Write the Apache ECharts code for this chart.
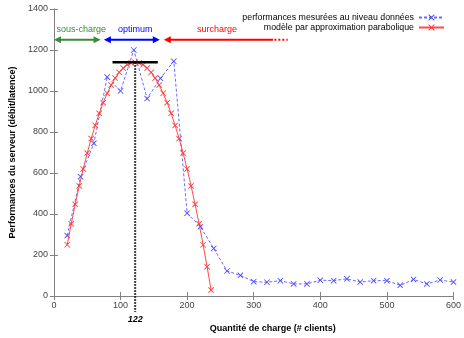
<!DOCTYPE html>
<html><head><meta charset="utf-8">
<script src="https://cdn.jsdelivr.net/npm/echarts@6/dist/echarts.min.js"></script>
<style>html,body{margin:0;padding:0;background:#fff}#c{width:464px;height:338px}</style>
</head><body><div id="c"></div>
<script>
// ---- data ----
const measuredX = [20,40,60,80,100,120,140,160,180,200,220,240,260,280,300,320,340,360,380,400,420,440,460,480,500,520,540,560,580,600];
const measuredY = [295,582,745,1068,1000,1200,963,1062,1145,404,338,232,122,101,70,67,75,59,59,77,75,84,68,75,75,52,81,59,78,68];
const modelX = [20,26,32,38,44,50,56,62,68,74,80,86,92,98,104,110,116,122,128,134,140,146,152,158,164,170,176,182,188,194,200,206,212,218,224,230,236];
const modelY = [250,352,447,537,620,697,768,832,891,943,989,1029,1063,1091,1112,1128,1137,1140,1137,1128,1112,1091,1063,1029,989,943,891,832,768,697,620,537,447,352,250,143,29];
const xTicks = [0,100,200,300,400,500,600];
const yTicks = [0,200,400,600,800,1000,1200,1400];
const seriesNames = ['performances mesurées au niveau données','modèle par approximation parabolique'];
const optimumLoad = 122;
const peakPerf = 1140;
const peakBar = [88,156];
const zoneNames = ['sous-charge','optimum','surcharge'];
const zoneStarts = [0,75,165];
const zoneEnds = [70,159,329];
const zoneLabelX = [41,122,245];
const zoneLevel = 1250;
const zoneLabelLevel = 1300;
const surchargeDotsEnd = 351;

const X_SYM = 'path://M0,1L1,0L5,4L9,0L10,1L6,5L10,9L9,10L5,6L1,10L0,9L4,5Z';
const FONT = '"Liberation Sans", Arial, sans-serif';
const zoneColors = ['#3a8a3a','#0000ff','#ff0000'];

const chart = echarts.init(document.getElementById('c'), null, {renderer:'canvas'});

function renderAnnot(params, api) {
  const kids = [];
  const top = api.coord([optimumLoad, peakPerf]);
  const base = api.coord([optimumLoad, 0]);
  kids.push({type:'line', shape:{x1:top[0], y1:top[1], x2:base[0], y2:base[1]+16},
    style:{stroke:'#000', lineWidth:2, lineDash:[1.5,1.5]}});
  kids.push({type:'text', style:{text:String(optimumLoad), x:base[0], y:base[1]+24,
    align:'center', verticalAlign:'middle', font:'italic bold 9px '+FONT, fill:'#000'}});
  const b1 = api.coord([peakBar[0], peakPerf]), b2 = api.coord([peakBar[1], peakPerf]);
  kids.push({type:'line', shape:{x1:b1[0], y1:b1[1], x2:b2[0], y2:b2[1]}, style:{stroke:'#000', lineWidth:2.5}});
  for (let i = 0; i < zoneNames.length; i++) {
    const a = api.coord([zoneStarts[i], zoneLevel]), b = api.coord([zoneEnds[i], zoneLevel]);
    const c = zoneColors[i], y = a[1], hl = 7, hh = 3.5;
    const leftHead = true, rightHead = i < 2;
    kids.push({type:'line', shape:{x1:a[0]+(leftHead?hl-1:0), y1:y, x2:b[0]-(rightHead?hl-1:0), y2:y}, style:{stroke:c, lineWidth:2}});
    if (leftHead) kids.push({type:'polygon', shape:{points:[[a[0],y],[a[0]+hl,y-hh],[a[0]+hl,y+hh]]}, style:{fill:c}});
    if (rightHead) kids.push({type:'polygon', shape:{points:[[b[0],y],[b[0]-hl,y-hh],[b[0]-hl,y+hh]]}, style:{fill:c}});
    const l = api.coord([zoneLabelX[i], zoneLabelLevel]);
    kids.push({type:'text', style:{text:zoneNames[i], x:l[0], y:l[1], align:'center', verticalAlign:'middle',
      font:'9px '+FONT, fill:c}});
  }
  const d1 = api.coord([zoneEnds[2]+2, zoneLevel]), d2 = api.coord([surchargeDotsEnd, zoneLevel]);
  kids.push({type:'line', shape:{x1:d1[0], y1:d1[1], x2:d2[0], y2:d2[1]}, style:{stroke:'#ff0000', lineWidth:2, lineDash:[2,2]}});
  return {type:'group', children:kids};
}

const axisCommon = {
  axisLine:{show:true, lineStyle:{color:'#808080', width:1}},
  axisTick:{show:true, inside:true, length:4, lineStyle:{color:'#808080'}},
  splitLine:{show:false}
};

chart.setOption({
  animation:false,
  backgroundColor:'#fff',
  grid:{left:50, right:7, top:9, bottom:35, show:false},
  legend:[
    {data:[seriesNames[0]], right:19, top:13, align:'right', itemWidth:25, itemHeight:8, padding:0,
     textStyle:{fontSize:8.8, fontFamily:FONT, color:'#000'}},
    {data:[seriesNames[1]], right:19, top:23, align:'right', itemWidth:25, itemHeight:8, padding:0,
     textStyle:{fontSize:8.8, fontFamily:FONT, color:'#000'}}
  ],
  xAxis:[
    Object.assign({type:'value', position:'bottom', min:0, max:600, interval:100,
      name:'Quantité de charge (# clients)', nameLocation:'middle', nameGap:28,
      nameTextStyle:{fontSize:9, fontWeight:'bold', fontFamily:FONT, color:'#000', padding:[0,0,0,38]},
      axisLabel:{fontSize:9, fontFamily:FONT, color:'#444', margin:5,
        formatter:v => xTicks.includes(v) ? String(v) : ''}}, axisCommon),
    Object.assign({type:'value', position:'top', min:0, max:600, interval:100, axisLabel:{show:false}}, axisCommon)
  ],
  yAxis:[
    Object.assign({type:'value', position:'left', min:0, max:1400, interval:200,
      name:'Performances du serveur (débit/latence)', nameLocation:'middle', nameGap:33,
      nameTextStyle:{fontSize:9, fontWeight:'bold', fontFamily:FONT, color:'#000'},
      axisLabel:{fontSize:9, fontFamily:FONT, color:'#444', margin:6,
        formatter:v => yTicks.includes(v) ? String(v) : ''}}, axisCommon),
    Object.assign({type:'value', position:'right', min:0, max:1400, interval:200, axisLabel:{show:false}}, axisCommon)
  ],
  series:[
    {name:seriesNames[0], type:'line', data:measuredX.map((x,i)=>[x,measuredY[i]]),
     symbol:X_SYM, symbolSize:6, showSymbol:true,
     lineStyle:{color:'#6a6aff', width:1, type:[3,2]},
     itemStyle:{color:'#4a4aff'}, z:3},
    {name:seriesNames[1], type:'line', data:modelX.map((x,i)=>[x,modelY[i]]),
     symbol:X_SYM, symbolSize:6, showSymbol:true,
     lineStyle:{color:'#ff4a4a', width:1},
     itemStyle:{color:'#ff3a3a'}, z:4},
    {type:'custom', data:[[optimumLoad, peakPerf]], renderItem:renderAnnot, clip:false, silent:true, z:5}
  ]
});
</script></body></html>
